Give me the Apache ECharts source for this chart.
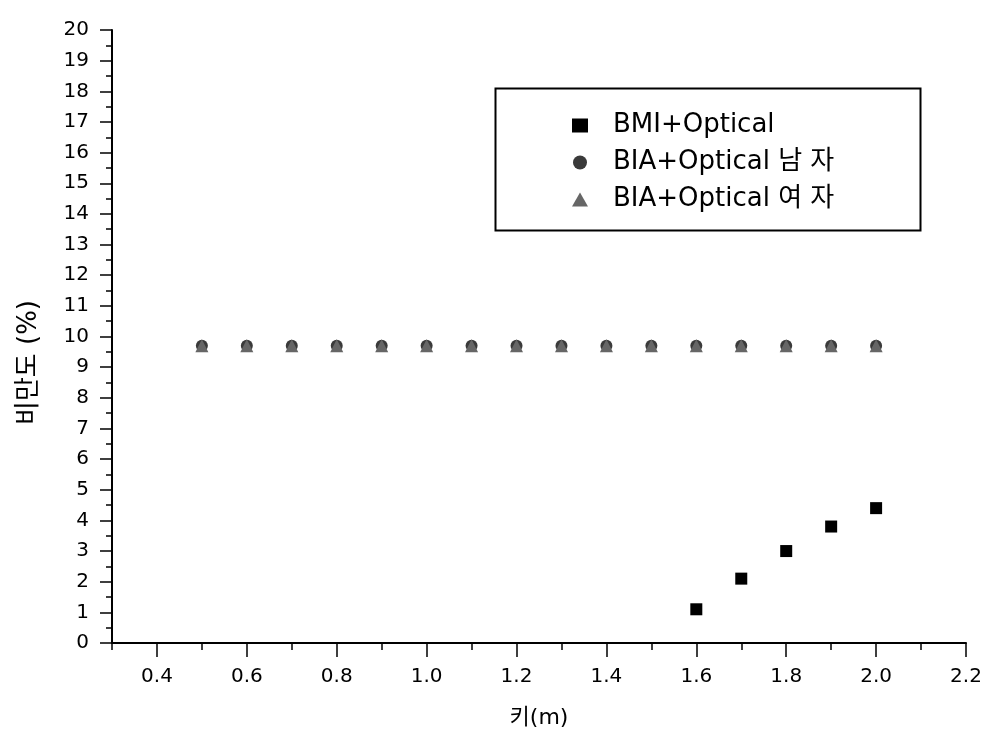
<!DOCTYPE html>
<html><head><meta charset="utf-8">
<script src="https://cdn.jsdelivr.net/npm/echarts@6/dist/echarts.min.js"></script>
<style>html,body{margin:0;padding:0;background:#fff}#c{width:992px;height:740px}</style>
</head><body><div id="c"></div>
<script>
const heights = [0.5,0.6,0.7,0.8,0.9,1.0,1.1,1.2,1.3,1.4,1.5,1.6,1.7,1.8,1.9,2.0];
const maleBIA = [9.7,9.7,9.7,9.7,9.7,9.7,9.7,9.7,9.7,9.7,9.7,9.7,9.7,9.7,9.7,9.7];
const femaleBIA = [9.7,9.7,9.7,9.7,9.7,9.7,9.7,9.7,9.7,9.7,9.7,9.7,9.7,9.7,9.7,9.7];
const bmiHeights = [1.6,1.7,1.8,1.9,2.0];
const bmiValues = [1.1,2.1,3.0,3.8,4.4];
const xTickLabels = [0.4,0.6,0.8,1.0,1.2,1.4,1.6,1.8,2.0,2.2];
const seriesNames = ['BMI+Optical','BIA+Optical 남 자','BIA+Optical 여 자'];

const FONT = '"DejaVu Sans", "Noto Sans CJK KR", sans-serif';
const chart = echarts.init(document.getElementById('c'), null, {renderer:'canvas'});
const pair = (xs, ys) => xs.map((x,i)=>[x, ys[i]]);
chart.setOption({
  animation:false,
  backgroundColor:'#fff',
  grid:{left:112,right:26,top:30,bottom:97},
  graphic:[{type:'rect',left:493,top:86,shape:{width:425,height:142},style:{fill:'none',stroke:'#000',lineWidth:2},z:10}],
  legend:{
    orient:'vertical',left:567,top:105,itemGap:6,itemWidth:16,itemHeight:14,
    textStyle:{fontFamily:FONT,fontSize:26,color:'#000',lineHeight:31,padding:[0,0,0,20]},
    data:seriesNames
  },
  xAxis:[{
    type:'value',min:0.3,max:2.2,position:'bottom',
    name:'키(m)',nameLocation:'middle',nameGap:64,
    nameTextStyle:{fontFamily:FONT,fontSize:22,color:'#000'},
    axisLine:{show:true,onZero:false,lineStyle:{color:'#000',width:2}},
    axisTick:{show:true,inside:false,length:14,customValues:xTickLabels,lineStyle:{color:'#000',width:1.5}},
    axisLabel:{customValues:xTickLabels,margin:24,fontFamily:FONT,fontSize:20,color:'#000',formatter:v=>v.toFixed(1)},
    splitLine:{show:false}
  },{
    type:'value',min:0.3,max:2.2,interval:0.1,position:'bottom',
    axisLine:{show:false,onZero:false},
    axisTick:{show:true,inside:false,length:7,lineStyle:{color:'#000',width:1.5}},
    axisLabel:{show:false},splitLine:{show:false}
  }],
  yAxis:{
    type:'value',min:0,max:20,interval:1,
    name:'비만도 (%)',nameLocation:'middle',nameGap:70,
    nameTextStyle:{fontFamily:FONT,fontSize:26,color:'#000',padding:[0,52,0,0]},
    axisLine:{show:true,onZero:false,lineStyle:{color:'#000',width:2}},
    axisTick:{show:true,inside:false,length:12,lineStyle:{color:'#000',width:1.5}},
    minorTick:{show:true,splitNumber:2,length:6,lineStyle:{color:'#000',width:1.5}},
    axisLabel:{margin:23,fontFamily:FONT,fontSize:20,color:'#000'},
    splitLine:{show:false}
  },
  series:[
    {name:seriesNames[0],type:'scatter',symbol:'rect',symbolSize:12,itemStyle:{color:'#000',opacity:1},data:pair(bmiHeights,bmiValues)},
    {name:seriesNames[1],type:'scatter',symbol:'circle',symbolSize:12,itemStyle:{color:'#3a3a3a',opacity:1},data:pair(heights,maleBIA)},
    {name:seriesNames[2],type:'scatter',symbol:'triangle',symbolSize:13,itemStyle:{color:'#666',opacity:1},data:pair(heights,femaleBIA)}
  ]
});
</script></body></html>
